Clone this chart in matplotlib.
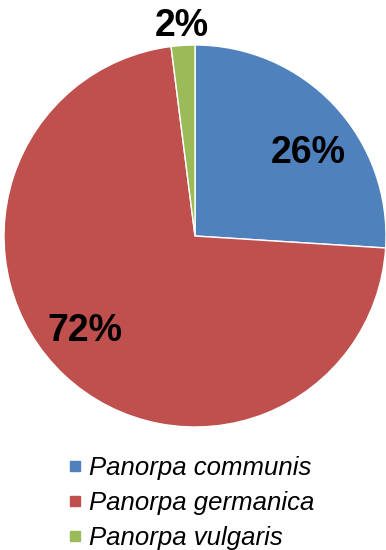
import matplotlib.pyplot as plt
import numpy as np

plt.rcParams['font.family'] = ['Liberation Sans', 'DejaVu Sans']

species = ["Panorpa communis", "Panorpa germanica", "Panorpa vulgaris"]
shares = [26, 72, 2]
colors = ["#4F81BD", "#C0504D", "#9BBB59"]

# where each percentage sits: radius and small angle nudge (degrees)
label_r = [0.735, 0.765, 1.10]
label_shift = [-7, -6, 0]

W, H = 386, 550
fig = plt.figure(figsize=(W / 100, H / 100), dpi=100)

cx, cy, R = 195, 236, 191
ax = fig.add_axes([(cx - R) / W, (H - cy - R) / H, 2 * R / W, 2 * R / H])
wedges, _ = ax.pie(shares, colors=colors, startangle=90, counterclock=False,
                   radius=1, wedgeprops=dict(edgecolor="white", linewidth=1))
ax.set_xlim(-1, 1)
ax.set_ylim(-1, 1)
ax.set_aspect("equal")
ax.axis("off")

for w, v, r, s in zip(wedges, shares, label_r, label_shift):
    mid = np.deg2rad((w.theta1 + w.theta2) / 2 + s)
    ax.text(r * np.cos(mid), r * np.sin(mid), f"{v}%", ha="center", va="center",
            fontsize=27, fontweight="bold", color="black", clip_on=False)

handles = [plt.Line2D([], [], marker="s", linestyle="none", markersize=7.5,
                      markerfacecolor=c, markeredgecolor=c) for c in colors]
fig.legend(handles, species, loc="center left", bbox_to_anchor=(54 / W, 1 - 503 / H),
           frameon=False, prop=dict(size=18.5, style="italic"),
           handlelength=0.6, handletextpad=0.25, labelspacing=0.42, borderpad=0)

fig.savefig("out.png", dpi=100)
